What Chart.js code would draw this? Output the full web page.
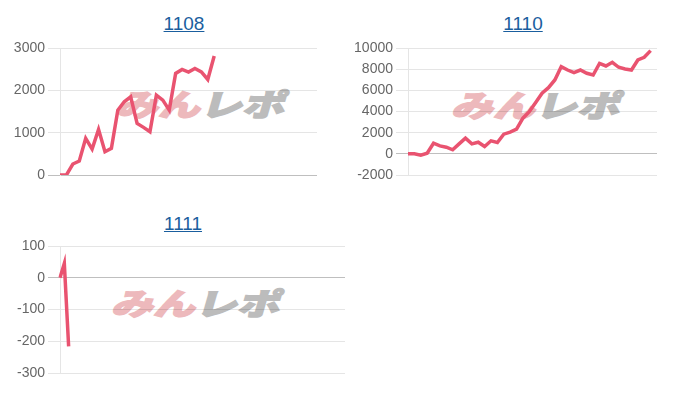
<!DOCTYPE html>
<html>
<head>
<meta charset="utf-8">
<script src="https://cdn.jsdelivr.net/npm/chart.js@4"></script>
<style>
  html, body { margin: 0; padding: 0; background: #fff; width: 700px; height: 400px; overflow: hidden; }
  .title { position: absolute; text-align: center; font-family: "Liberation Sans", Arial, sans-serif; font-size: 19px; line-height: 21px; }
  .title a { color: #1a5e9e; text-decoration: underline; }
  .wm { position: absolute; font-family: "Noto Sans CJK JP", sans-serif; font-weight: 900; font-size: 42px; line-height: 42px; white-space: nowrap; transform: skewX(-16deg) scaleY(0.72); transform-origin: left top; letter-spacing: 0px; }
  .wm .p { color: #edb9bc; -webkit-text-stroke: 2px #edb9bc; }
  .wm .g { color: #bcbcbc; -webkit-text-stroke: 2px #bcbcbc; }
  .box { position: absolute; }
</style>
</head>
<body>
<div class="title" style="left:134px; top:13px; width:100px;"><a href="#">1108</a></div>
<div class="title" style="left:473px; top:13px; width:100px;"><a href="#">1110</a></div>
<div class="title" style="left:133px; top:213px; width:100px;"><a href="#">1111</a></div>

<div class="wm" style="left:124px; top:88px;"><span class="p">みん</span><span class="g">レポ</span></div>
<div class="wm" style="left:459px; top:89px;"><span class="p">みん</span><span class="g">レポ</span></div>
<div class="wm" style="left:119px; top:287px;"><span class="p">みん</span><span class="g">レポ</span></div>

<div class="box" style="left:0px; top:36px; width:321px; height:151px;"><canvas id="c1"></canvas></div>
<div class="box" style="left:348px; top:36px; width:313px; height:151px;"><canvas id="c2"></canvas></div>
<div class="box" style="left:0px; top:234px; width:349px; height:151px;"><canvas id="c3"></canvas></div>

<script>
// ---- data ----
const titles = ["1108", "1110", "1111"];
const labelCounts = [41, 40, 67];
const values1108 = [0, 0, 260, 330, 865, 613, 1078, 550, 630, 1533, 1730, 1847, 1219, 1125, 1022, 1887, 1769, 1533, 2400, 2493, 2430, 2517, 2437, 2257, 2810];
const values1110 = [0, 0, -125, 60, 1000, 750, 630, 380, 940, 1480, 940, 1100, 690, 1230, 1070, 1860, 2050, 2330, 3370, 3990, 4840, 5730, 6250, 6980, 8240, 7920, 7670, 7920, 7610, 7450, 8550, 8300, 8650, 8180, 8020, 7920, 8870, 9120, 9750];
const values1111 = [0, 45, -216];
const ticks1108 = { min: 0, max: 3000, step: 1000 };
const ticks1110 = { min: -2000, max: 10000, step: 2000 };
const ticks1111 = { min: -300, max: 100, step: 100 };

const lineColor = 'rgb(233, 83, 112)';
const fontFamily = '"Liberation Sans", Arial, sans-serif';

function makeLabels(n) {
  const a = [];
  for (let i = 1; i <= n; i++) a.push(String(i));
  return a;
}

function makeChart(id, name, labels, data, t) {
  return new Chart(document.getElementById(id), {
    type: 'line',
    data: {
      labels: labels,
      datasets: [{
        label: name,
        data: data,
        borderColor: lineColor,
        backgroundColor: lineColor,
        borderWidth: 3.5,
        pointRadius: 0,
        tension: 0,
        fill: false
      }]
    },
    options: {
      responsive: true,
      maintainAspectRatio: false,
      animation: false,
      layout: { padding: { top: 12, bottom: 12, left: 0, right: 4 } },
      plugins: { legend: { display: false }, title: { display: false }, tooltip: { enabled: false } },
      scales: {
        x: { display: false },
        y: {
          min: t.min, max: t.max,
          afterFit: function (s) { s.width = 60; },
          ticks: {
            stepSize: t.step, color: '#666', padding: 3,
            font: { family: fontFamily, size: 14 },
            callback: function (v) { return String(v); }
          },
          grid: {
            color: function (c) { return c.tick && c.tick.value === 0 ? 'rgba(0,0,0,0.25)' : 'rgba(0,0,0,0.1)'; },
            tickLength: 12
          },
          border: { display: true, color: 'rgba(0,0,0,0.1)' }
        }
      }
    }
  });
}

makeChart('c1', titles[0], makeLabels(labelCounts[0]), values1108, ticks1108);
makeChart('c2', titles[1], makeLabels(labelCounts[1]), values1110, ticks1110);
makeChart('c3', titles[2], makeLabels(labelCounts[2]), values1111, ticks1111);
</script>
</body>
</html>
